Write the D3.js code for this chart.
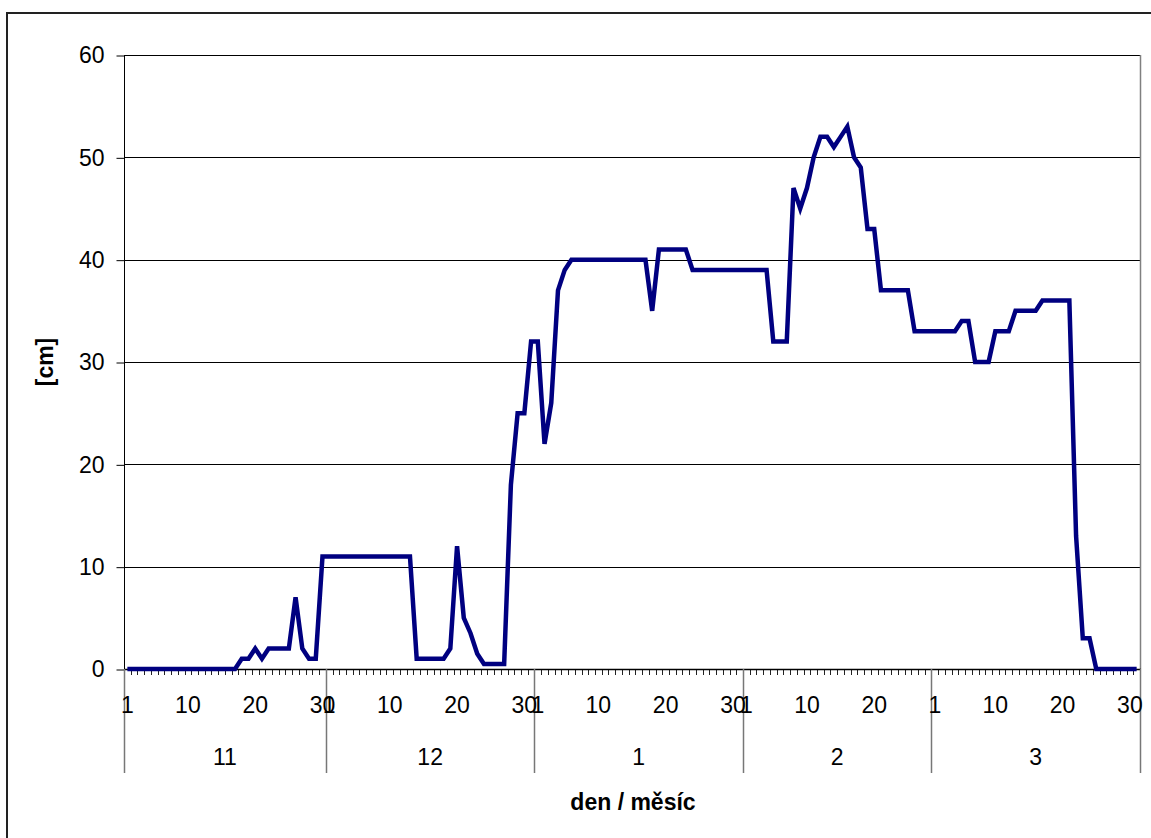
<!DOCTYPE html>
<html>
<head>
<meta charset="utf-8">
<script src="https://cdn.jsdelivr.net/npm/d3@7"></script>
<style>
  html, body { margin: 0; padding: 0; background: #fff; }
  svg { display: block; font-family: Arial, "Liberation Sans", sans-serif; }
</style>
</head>
<body>
<svg id="chart" width="1151" height="838"></svg>
<script>
// Snow depth per day, November through March
const months = ["11", "12", "1", "2", "3"];
const daysInMonth = [30, 31, 31, 28, 31];
const dayLabels = [1, 10, 20, 30];
const yTicks = [0, 10, 20, 30, 40, 50, 60];

const depthNov = [0, 0, 0, 0, 0, 0, 0, 0, 0, 0, 0, 0, 0, 0, 0, 0, 0, 1, 1, 2, 1, 2, 2, 2, 2, 7, 2, 1, 1, 11];
const depthDec = [11, 11, 11, 11, 11, 11, 11, 11, 11, 11, 11, 11, 11, 1, 1, 1, 1, 1, 2, 12, 5, 3.5, 1.5, 0.5, 0.5, 0.5, 0.5, 18, 25, 25, 32];
const depthJan = [32, 22, 26, 37, 39, 40, 40, 40, 40, 40, 40, 40, 40, 40, 40, 40, 40, 35, 41, 41, 41, 41, 41, 39, 39, 39, 39, 39, 39, 39, 39];
const depthFeb = [39, 39, 39, 39, 32, 32, 32, 47, 45, 47, 50, 52, 52, 51, 52, 53, 50, 49, 43, 43, 37, 37, 37, 37, 37, 33, 33, 33];
const depthMar = [33, 33, 33, 33, 34, 34, 30, 30, 30, 33, 33, 33, 35, 35, 35, 35, 36, 36, 36, 36, 36, 13, 3, 3, 0, 0, 0, 0, 0, 0, 0];

const monthDepths = [depthNov, depthDec, depthJan, depthFeb, depthMar];

// Flatten into one day-by-day series
const days = [];
monthDepths.forEach((arr, m) => {
  arr.forEach((v, d) => days.push({ month: m, day: d + 1, value: v, idx: days.length }));
});

const svg = d3.select("#chart");
const plotLeft = 124, plotRight = 1140, plotTop = 55, plotBottom = 669;

const x = d3.scaleBand().domain(days.map(d => d.idx)).range([plotLeft, plotRight]).paddingInner(0).paddingOuter(0);
const y = d3.scaleLinear().domain([0, 60]).range([plotBottom, plotTop]);
const bw = x.bandwidth();
const cx = i => x(i) + bw / 2;

// Outer chart frame
svg.append("rect")
  .attr("x", 7).attr("y", 13).attr("width", 1200).attr("height", 900)
  .attr("fill", "none").attr("stroke", "#222").attr("stroke-width", 2);

// Horizontal gridlines
svg.append("g").selectAll("line").data(yTicks.filter(t => t > 0)).join("line")
  .attr("x1", plotLeft).attr("x2", plotRight)
  .attr("y1", d => Math.round(y(d)) + 0.5).attr("y2", d => Math.round(y(d)) + 0.5)
  .attr("stroke", "#000").attr("stroke-width", 1);

// Right edge of plot area
svg.append("line")
  .attr("x1", plotRight + 0.5).attr("x2", plotRight + 0.5).attr("y1", plotTop).attr("y2", plotBottom)
  .attr("stroke", "#808080").attr("stroke-width", 1.5);

// Y axis
const yAxis = d3.axisLeft(y).tickValues(yTicks).tickSize(8).tickPadding(12).tickFormat(d3.format("d"));
const gy = svg.append("g").attr("transform", `translate(${plotLeft + 0.5},0.5)`).call(yAxis);
gy.select(".domain").attr("stroke", "#000").attr("d", `M0,${plotTop}V${plotBottom}`);
gy.selectAll(".tick line").attr("stroke", "#000");
gy.selectAll(".tick text").attr("font-size", 23).attr("fill", "#000").attr("font-family", "Arial, 'Liberation Sans', sans-serif");

// X axis: a minor tick at each day boundary
const boundaries = days.map(d => x(d.idx)).concat([plotRight]);
svg.append("g").selectAll("line").data(boundaries).join("line")
  .attr("x1", d => Math.round(d) + 0.5).attr("x2", d => Math.round(d) + 0.5)
  .attr("y1", plotBottom).attr("y2", plotBottom + 6)
  .attr("stroke", "#222").attr("stroke-width", 1);

svg.append("line")
  .attr("x1", plotLeft).attr("x2", plotRight + 1).attr("y1", plotBottom + 0.5).attr("y2", plotBottom + 0.5)
  .attr("stroke", "#000").attr("stroke-width", 1.5);

// Month separators
const monthStarts = [];
let acc = 0;
daysInMonth.forEach(n => { monthStarts.push(acc); acc += n; });
const sepX = monthStarts.map(s => x(s)).concat([plotRight]);
svg.append("g").selectAll("line").data(sepX).join("line")
  .attr("x1", d => Math.round(d) + 0.5).attr("x2", d => Math.round(d) + 0.5)
  .attr("y1", plotBottom).attr("y2", 773)
  .attr("stroke", "#777").attr("stroke-width", 1.5);

// Day labels
svg.append("g").selectAll("text")
  .data(days.filter(d => dayLabels.includes(d.day))).join("text")
  .attr("x", d => cx(d.idx)).attr("y", 705)
  .attr("text-anchor", "middle").attr("dominant-baseline", "central")
  .attr("font-size", 23).attr("fill", "#000")
  .text(d => d.day);

// Month labels
svg.append("g").selectAll("text").data(months).join("text")
  .attr("x", (d, i) => (x(monthStarts[i]) + (i + 1 < monthStarts.length ? x(monthStarts[i + 1]) : plotRight)) / 2)
  .attr("y", 757)
  .attr("text-anchor", "middle").attr("dominant-baseline", "central")
  .attr("font-size", 23).attr("fill", "#000")
  .text(d => d);

// Axis titles
svg.append("text")
  .attr("x", 633).attr("y", 802)
  .attr("text-anchor", "middle").attr("dominant-baseline", "central")
  .attr("font-size", 23).attr("font-weight", "bold").attr("fill", "#000")
  .text("den / měsíc");

svg.append("text")
  .attr("transform", "translate(45,362) rotate(-90)")
  .attr("text-anchor", "middle").attr("dominant-baseline", "central")
  .attr("font-size", 23).attr("font-weight", "bold").attr("fill", "#000")
  .text("[cm]");

// Snow depth line
const line = d3.line().x(d => cx(d.idx)).y(d => y(d.value));
svg.append("path")
  .datum(days)
  .attr("d", line)
  .attr("fill", "none")
  .attr("stroke", "#000080")
  .attr("stroke-width", 4.5)
  .attr("stroke-linejoin", "miter");
</script>
</body>
</html>
